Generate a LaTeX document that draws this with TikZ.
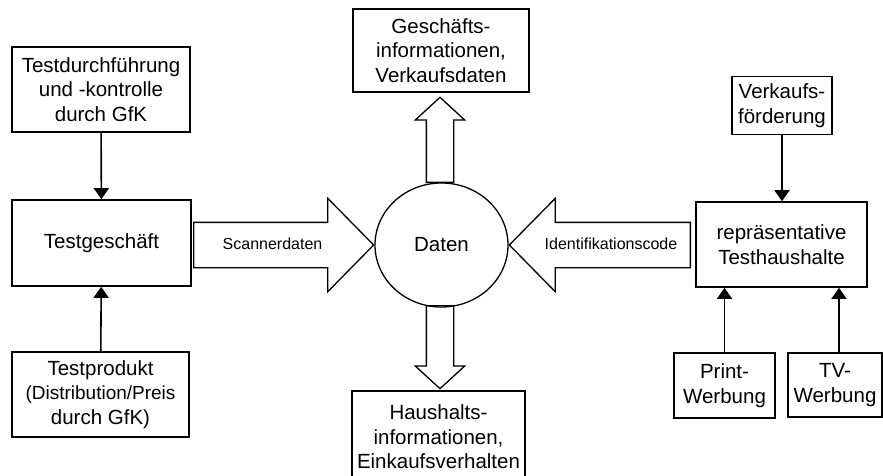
\documentclass[tikz,border=0pt]{standalone}
\usepackage{fontspec}
\setmainfont{Liberation Sans}
\usetikzlibrary{arrows.meta, shapes.geometric, shapes.arrows}

\begin{document}
\begin{tikzpicture}[
    x=1pt, y=-1pt,
    box/.style={draw, line width=1.6pt, align=center, inner sep=0pt,
      font=\fontsize{20.5}{24.5}\selectfont},
    link/.style={line width=1.6pt, -{Triangle[length=11pt, width=15pt]}},
    hbig/.style={single arrow, draw, line width=1.3pt, anchor=tail,
      font=\fontsize{16}{19}\selectfont, text height=12pt, text depth=4pt,
      inner xsep=1pt, inner ysep=14pt, single arrow head extend=24pt,
      single arrow tip angle=91},
    vbig/.style={single arrow, draw, line width=1.3pt, anchor=tail,
      inner sep=13pt, single arrow head extend=11pt,
      single arrow tip angle=95},
  ]
    \clip (0,0) rectangle (883,475);
    % left column
    \node[box, minimum width=178pt, minimum height=85pt] (durch) at (101,89.5)
      {Testdurchführung\\und -kontrolle\\durch GfK};
    \node[box, minimum width=179pt, minimum height=86pt] (shop) at (101.5,243) {Testgeschäft};
    \node[box, minimum width=177pt, minimum height=85pt] (prod) at (100.5,394.5)
      {Testprodukt\\\fontsize{19}{23.5}\selectfont(Distribution/Preis\\durch GfK)};
    % centre
    \node[ellipse, draw, line width=1.3pt, minimum width=133pt, minimum height=124pt,
      font=\fontsize{20.5}{24.5}\selectfont] (daten) at (441.5,245) {Daten};
    \node[box, minimum width=176pt, minimum height=83pt] (gesch) at (441,50.5)
      {Geschäfts-\\informationen,\\Verkaufsdaten};
    \node[box, minimum width=173pt, minimum height=92pt] (haus) at (438.5,437)
      {Haushalts-\\informationen,\\Einkaufsverhalten};
    % right column
    \node[box, minimum width=171pt, minimum height=85pt] (hh) at (781.5,244.5)
      {repräsentative\\Testhaushalte};
    \node[box, minimum width=100pt, minimum height=58pt] (vkf) at (782,105.5)
      {Verkaufs-\\förderung};
    \node[box, minimum width=101pt, minimum height=65pt] (print) at (724.5,385.5)
      {Print-\\Werbung};
    \node[box, minimum width=94pt, minimum height=64pt] (tv) at (835,385)
      {TV-\\Werbung};
    % thin arrows
    \draw[link] (durch) -- (shop);
    \draw[link] (prod) -- (shop);
    \draw[link] (vkf) -- (vkf |- hh.north);
    \draw[link] (print) -- (print |- hh.south);
    \draw[link] ([xshift=4pt]tv.north) -- ([xshift=4pt]tv.north |- hh.south);
    % block arrows
    \node[hbig, minimum height=180pt] (scan) at (193,245) {Scannerdaten};
    \node[hbig, minimum height=181pt, shape border rotate=180] (ident) at (691,245)
      {Identifikationscode};
    \node[vbig, minimum height=85pt, shape border rotate=90] (up) at (440,183) {};
    \node[vbig, minimum height=83pt, shape border rotate=270] (down) at (440,305) {};
  \end{tikzpicture}
\end{document}
